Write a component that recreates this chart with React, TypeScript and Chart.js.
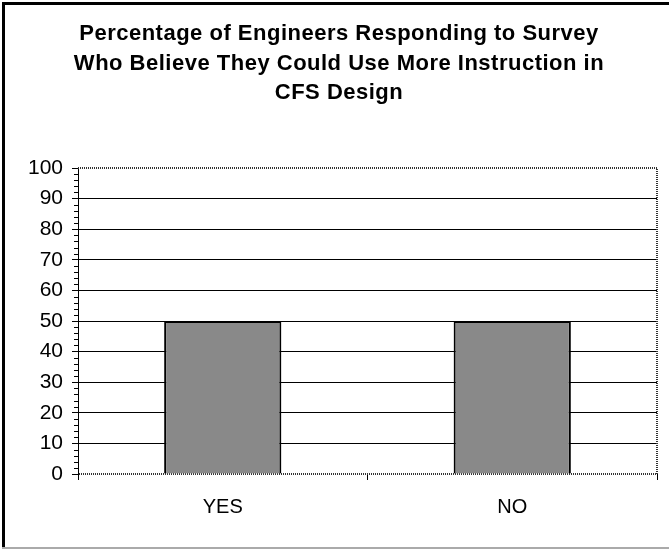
import React, { useEffect, useRef } from "react";
import { Chart, registerables } from "chart.js";

Chart.register(...registerables);

const categories = ["YES", "NO"];
const percentValues = [50, 50];
const titleLines = [
  "Percentage of Engineers Responding to Survey",
  "Who Believe They Could Use More Instruction in",
  "CFS Design",
];
const yMin = 0;
const yMax = 100;
const yStep = 10;
const yMinorStep = 2;

const FONT = "'Liberation Sans', Arial, Helvetica, sans-serif";

// Letter-spaced bold heading drawn above the plot
const heading = {
  id: "heading",
  afterDraw(chart: any) {
    const { ctx } = chart;
    ctx.save();
    ctx.fillStyle = "#000";
    ctx.font = `bold 22px ${FONT}`;
    (ctx as any).letterSpacing = "0.5px";
    ctx.textAlign = "center";
    ctx.textBaseline = "alphabetic";
    titleLines.forEach((line, i) => {
      ctx.fillText(line, 339, 40 + i * 29.5);
    });
    ctx.restore();
  },
};

// Page frame, plot-area dotted edges and minor y ticks
const decorations = {
  id: "decorations",
  beforeDatasetsDraw(chart: any) {
    const { ctx, chartArea } = chart;
    const { left, right, top, bottom } = chartArea;
    ctx.save();
    ctx.strokeStyle = "#333";
    ctx.lineWidth = 2;
    ctx.setLineDash([1, 1]);
    ctx.beginPath();
    ctx.moveTo(left, top);
    ctx.lineTo(right, top);
    ctx.lineTo(right, bottom);
    ctx.lineTo(left, bottom);
    ctx.stroke();
    ctx.restore();
  },
  afterDraw(chart: any) {
    const { ctx, chartArea, width, height } = chart;
    const y = chart.scales.y;
    ctx.save();
    ctx.strokeStyle = "#000";
    ctx.lineWidth = 1;
    ctx.beginPath();
    for (let v = yMin; v <= yMax; v += yMinorStep) {
      if (v % yStep === 0) continue;
      const py = Math.round(y.getPixelForValue(v)) + 0.5;
      ctx.moveTo(chartArea.left - 4, py);
      ctx.lineTo(chartArea.left, py);
    }
    ctx.stroke();
    ctx.fillStyle = "#000";
    ctx.fillRect(2, 2, width - 2, 3);
    ctx.fillRect(2, 2, 3, height - 4);
    ctx.fillStyle = "#aaa";
    ctx.fillRect(2, height - 3, width - 2, 2);
    ctx.restore();
  },
};

export default function App() {
  const canvasRef = useRef<HTMLCanvasElement | null>(null);

  useEffect(() => {
    if (!canvasRef.current) return;
    const chart = new Chart(canvasRef.current, {
      type: "bar",
      data: {
        labels: categories,
        datasets: [
          {
            data: percentValues,
            backgroundColor: "#898989",
            borderColor: "#000",
            borderWidth: 2,
            categoryPercentage: 1,
            barPercentage: 0.405,
          },
        ],
      },
      options: {
        responsive: false,
        animation: false,
        layout: { padding: { left: 0, right: 12, top: 168, bottom: 0 } },
        plugins: {
          legend: { display: false },
          tooltip: { enabled: false },
          title: { display: false },
        },
        scales: {
          x: {
            offset: true,
            grid: {
              display: true,
              drawOnChartArea: false,
              drawTicks: true,
              tickLength: 6,
              color: "#000",
              offset: true,
            },
            border: { display: false },
            ticks: {
              color: "#000",
              padding: 15,
              font: { family: FONT, size: 20 },
            },
            afterFit: (scale: any) => {
              scale.height = 76;
            },
          },
          y: {
            min: yMin,
            max: yMax,
            ticks: {
              stepSize: yStep,
              color: "#000",
              padding: 9,
              font: { family: FONT, size: 21 },
            },
            grid: {
              color: (c: any) =>
                c.tick && (c.tick.value === yMin || c.tick.value === yMax) ? "rgba(0,0,0,0)" : "#000",
              tickColor: "#000",
              tickLength: 6,
              lineWidth: 1,
            },
            border: { display: true, color: "#000", width: 1 },
            afterFit: (scale: any) => {
              scale.width = 78;
            },
          },
        },
      },
      plugins: [decorations, heading],
    });
    return () => chart.destroy();
  }, []);

  return (
    <div style={{ position: "fixed", left: 0, top: 0, width: 669, height: 550, background: "#fff" }}>
      <canvas ref={canvasRef} width={669} height={550} />
    </div>
  );
}
